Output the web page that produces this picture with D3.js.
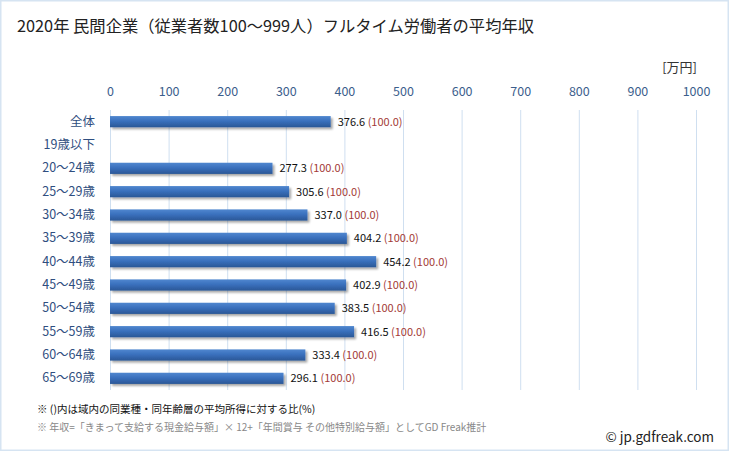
<!DOCTYPE html>
<html><head><meta charset="utf-8">
<script src="https://cdn.jsdelivr.net/npm/d3@7"></script>
<style>
html,body{margin:0;padding:0;background:#fff;}
svg{display:block;font-family:"Noto Sans CJK JP","Noto Sans",sans-serif;}
</style></head>
<body>
<svg id="chart" width="729" height="451"></svg>
<script>
const categories = ["全体","19歳以下","20～24歳","25～29歳","30～34歳","35～39歳","40～44歳","45～49歳","50～54歳","55～59歳","60～64歳","65～69歳"];
const values = [376.6, null, 277.3, 305.6, 337.0, 404.2, 454.2, 402.9, 383.5, 416.5, 333.4, 296.1];
const ratios = [100.0, null, 100.0, 100.0, 100.0, 100.0, 100.0, 100.0, 100.0, 100.0, 100.0, 100.0];
const ticks = [0,100,200,300,400,500,600,700,800,900,1000];

const svg = d3.select("#chart");
const W = 729, H = 451;
svg.append("rect").attr("x",0.5).attr("y",0.5).attr("width",W-1).attr("height",H-1)
  .attr("fill","#fff").attr("stroke","#d6e4f2").attr("stroke-width",2);

const defs = svg.append("defs");
const g1 = defs.append("linearGradient").attr("id","barg").attr("x1",0).attr("y1",0).attr("x2",0).attr("y2",1);
g1.append("stop").attr("offset","0%").attr("stop-color","#5087cf");
g1.append("stop").attr("offset","45%").attr("stop-color","#3a70bd");
g1.append("stop").attr("offset","100%").attr("stop-color","#2a5796");
const f = defs.append("filter").attr("id","sh").attr("x","-10%").attr("y","-50%").attr("width","130%").attr("height","250%");
f.append("feGaussianBlur").attr("in","SourceAlpha").attr("stdDeviation",1.2);
f.append("feOffset").attr("dx",2).attr("dy",2).attr("result","b");
f.append("feComponentTransfer").append("feFuncA").attr("type","linear").attr("slope",0.35);
const fm = f.append("feMerge"); fm.append("feMergeNode"); fm.append("feMergeNode").attr("in","SourceGraphic");

const x = d3.scaleLinear().domain([0,1000]).range([110,696]);
const y = d3.scaleBand().domain(categories).range([110,390]).paddingInner(0.52).paddingOuter(0.26);

// title
svg.append("text").attr("x",17).attr("y",32).attr("font-size",16.3).attr("fill","#222")
  .text("2020年 民間企業（従業者数100～999人）フルタイム労働者の平均年収");
svg.append("text").attr("x",697).attr("y",72).attr("text-anchor","end").attr("font-size",13).attr("fill","#333").text("[万円]");

// gridlines
svg.append("g").selectAll("line").data(ticks.slice(1)).join("line")
  .attr("x1",d=>x(d)+0.5).attr("x2",d=>x(d)+0.5).attr("y1",110).attr("y2",390)
  .attr("stroke","#cfdff0").attr("stroke-width",1);

// top axis labels
const ax = svg.append("g").attr("transform","translate(0,96)")
  .call(d3.axisTop(x).tickValues(ticks).tickFormat(d3.format("d")).tickSize(0).tickPadding(0));
ax.select(".domain").remove();
ax.selectAll("text").attr("font-size",12.5).attr("fill","#3b5e8c").attr("font-family","\"Noto Sans CJK JP\",sans-serif");

// baseline
svg.append("line").attr("x1",110.5).attr("x2",110.5).attr("y1",110).attr("y2",390).attr("stroke","#cfdff0");

// category labels
const ay = svg.append("g").attr("transform","translate(95,0)")
  .call(d3.axisLeft(y).tickSize(0).tickPadding(0));
ay.select(".domain").remove();
ay.selectAll("text").attr("font-size",12.5).attr("fill","#2f4e80").attr("font-family","\"Noto Sans CJK JP\",sans-serif");

const data = categories.map((c,i)=>({c, v:values[i], r:ratios[i]})).filter(d=>d.v!=null);

svg.append("g").selectAll("rect").data(data).join("rect")
  .attr("x",x(0)).attr("y",d=>y(d.c)).attr("width",d=>x(d.v)-x(0)).attr("height",y.bandwidth())
  .attr("fill","url(#barg)").attr("filter","url(#sh)");

const lbl = svg.append("g").selectAll("text").data(data).join("text")
  .attr("x",d=>x(d.v)+7).attr("y",d=>y(d.c)+y.bandwidth()/2+4).attr("font-size",11)
  .attr("font-family","\"Noto Sans CJK JP\",sans-serif");
lbl.append("tspan").attr("fill","#111").text(d=>d.v.toFixed(1));
lbl.append("tspan").attr("fill","#a33a36").text(d=>" ("+d.r.toFixed(1)+")");

// footnotes
svg.append("text").attr("x",37).attr("y",413).attr("font-size",10.5).attr("fill","#111")
  .text("※ ()内は域内の同業種・同年齢層の平均所得に対する比(%)");
svg.append("text").attr("x",37).attr("y",431).attr("font-size",10).attr("fill","#888")
  .text("※ 年収=「きまって支給する現金給与額」× 12+「年間賞与 その他特別給与額」としてGD Freak推計");
svg.append("text").attr("x",714).attr("y",442).attr("text-anchor","end").attr("font-size",13.5).attr("fill","#222")
  .text("© jp.gdfreak.com");
</script>
</body></html>
